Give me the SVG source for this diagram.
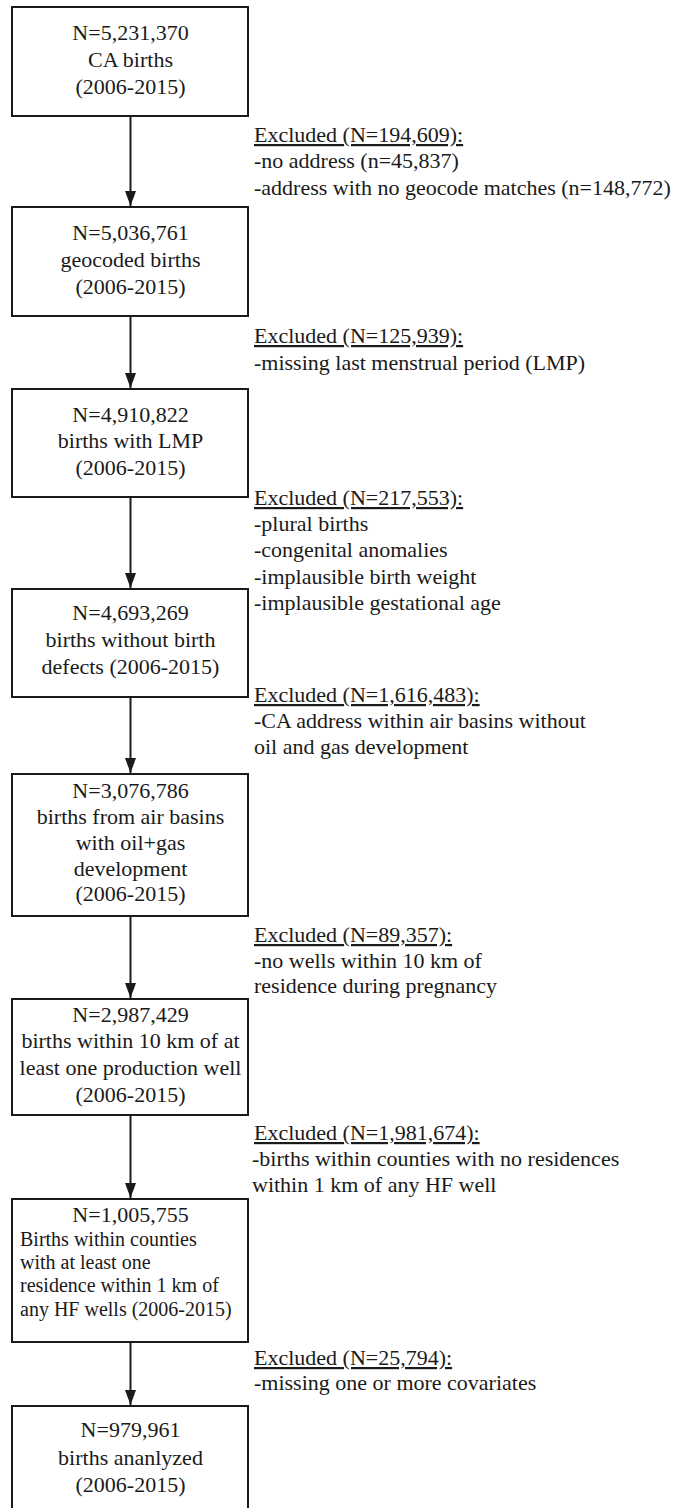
<svg xmlns="http://www.w3.org/2000/svg" width="676" height="1508" viewBox="0 0 676 1508">
<defs>
<style>
text { font-family: "Liberation Serif", "Times New Roman", serif; font-size: 22px; fill: #1a1a1a; }
.c { text-anchor: middle; }
.s { font-size: 20px; }
.h { text-decoration: underline; }
.box { fill: #ffffff; stroke: #1a1a1a; stroke-width: 2; }
.arr { stroke: #1a1a1a; stroke-width: 2; fill: none; }
</style>
<marker id="ah" markerUnits="userSpaceOnUse" markerWidth="16" markerHeight="12" refX="15" refY="5.5" orient="auto">
<path d="M0,0 L15,5.5 L0,11 Z" fill="#1a1a1a"/>
</marker>
</defs>
<rect width="676" height="1508" fill="#ffffff"/>

<g id="connectors">
<line class="arr" x1="130.5" y1="117" x2="130.5" y2="206" marker-end="url(#ah)"/>
<line class="arr" x1="130.5" y1="317" x2="130.5" y2="388" marker-end="url(#ah)"/>
<line class="arr" x1="130.5" y1="498" x2="130.5" y2="588" marker-end="url(#ah)"/>
<line class="arr" x1="130.5" y1="698" x2="130.5" y2="773" marker-end="url(#ah)"/>
<line class="arr" x1="130.5" y1="917" x2="130.5" y2="998" marker-end="url(#ah)"/>
<line class="arr" x1="130.5" y1="1116" x2="130.5" y2="1198" marker-end="url(#ah)"/>
<line class="arr" x1="130.5" y1="1343" x2="130.5" y2="1405" marker-end="url(#ah)"/>
</g>

<g id="n1">
<rect class="box" x="12" y="7" width="236" height="109"/>
<text class="c" x="130.5" y="40">N=5,231,370</text>
<text class="c" x="130.5" y="67">CA births</text>
<text class="c" x="130.5" y="94">(2006-2015)</text>
</g>
<g id="x1">
<text class="h" x="254" y="142">Excluded (N=194,609):</text>
<text x="254" y="168">-no address (n=45,837)</text>
<text x="254" y="195">-address with no geocode matches (n=148,772)</text>
</g>

<g id="n2">
<rect class="box" x="12" y="207" width="236" height="109"/>
<text class="c" x="130.5" y="240">N=5,036,761</text>
<text class="c" x="130.5" y="267">geocoded births</text>
<text class="c" x="130.5" y="294">(2006-2015)</text>
</g>
<g id="x2">
<text class="h" x="254" y="343">Excluded (N=125,939):</text>
<text x="254" y="370">-missing last menstrual period (LMP)</text>
</g>

<g id="n3">
<rect class="box" x="12" y="389" width="236" height="108"/>
<text class="c" x="130.5" y="422">N=4,910,822</text>
<text class="c" x="130.5" y="448">births with LMP</text>
<text class="c" x="130.5" y="475">(2006-2015)</text>
</g>
<g id="x3">
<text class="h" x="254" y="505">Excluded (N=217,553):</text>
<text x="254" y="531">-plural births</text>
<text x="254" y="557">-congenital anomalies</text>
<text x="254" y="584">-implausible birth weight</text>
<text x="254" y="610">-implausible gestational age</text>
</g>

<g id="n4">
<rect class="box" x="12" y="589" width="236" height="108"/>
<text class="c" x="130.5" y="620">N=4,693,269</text>
<text class="c" x="130.5" y="647">births without birth</text>
<text class="c" x="130.5" y="674">defects (2006-2015)</text>
</g>
<g id="x4">
<text class="h" x="254" y="702">Excluded (N=1,616,483):</text>
<text x="254" y="728">-CA address within air basins without</text>
<text x="254" y="754">oil and gas development</text>
</g>

<g id="n5">
<rect class="box" x="12" y="774" width="236" height="142"/>
<text class="c" x="130.5" y="798">N=3,076,786</text>
<text class="c" x="130.5" y="824">births from air basins</text>
<text class="c" x="130.5" y="850">with oil+gas</text>
<text class="c" x="130.5" y="876">development</text>
<text class="c" x="130.5" y="901">(2006-2015)</text>
</g>
<g id="x5">
<text class="h" x="254" y="942">Excluded (N=89,357):</text>
<text x="254" y="968">-no wells within 10 km of</text>
<text x="254" y="993">residence during pregnancy</text>
</g>

<g id="n6">
<rect class="box" x="12" y="999" width="236" height="116"/>
<text class="c" x="130.5" y="1022">N=2,987,429</text>
<text class="c" x="130.5" y="1048">births within 10 km of at</text>
<text class="c" x="130.5" y="1075">least one production well</text>
<text class="c" x="130.5" y="1102">(2006-2015)</text>
</g>
<g id="x6">
<text class="h" x="254" y="1140">Excluded (N=1,981,674):</text>
<text x="252" y="1166">-births within counties with no residences</text>
<text x="252" y="1192">within 1 km of any HF well</text>
</g>

<g id="n7">
<rect class="box" x="12" y="1199" width="236" height="143"/>
<text class="c" x="130.5" y="1222">N=1,005,755</text>
<text class="s" x="20" y="1246">Births within counties</text>
<text class="s" x="20" y="1269">with at least one</text>
<text class="s" x="20" y="1292">residence within 1 km of</text>
<text class="s" x="20" y="1316">any HF wells (2006-2015)</text>
</g>
<g id="x7">
<text class="h" x="254" y="1365">Excluded (N=25,794):</text>
<text x="254" y="1390">-missing one or more covariates</text>
</g>

<g id="n8">
<rect class="box" x="12" y="1406" width="236" height="110"/>
<text class="c" x="130.5" y="1437">N=979,961</text>
<text class="c" x="130.5" y="1465">births ananlyzed</text>
<text class="c" x="130.5" y="1492">(2006-2015)</text>
</g>
</svg>
